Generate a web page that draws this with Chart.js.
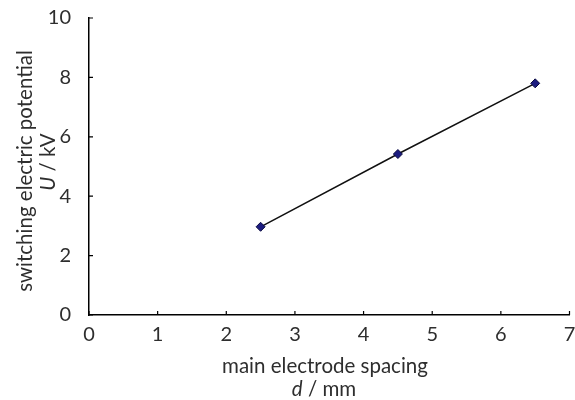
<!DOCTYPE html>
<html>
<head>
<meta charset="utf-8">
<script src="https://cdn.jsdelivr.net/npm/chart.js@4"></script>
<style>
  html, body { margin: 0; padding: 0; background: #fff; }
  #wrap { width: 575px; height: 400px; }
</style>
</head>
<body>
<div id="wrap"><canvas id="chart"></canvas></div>
<script>
const spacing = [2.5, 4.5, 6.5];
const potential = [2.97, 5.42, 7.8];
const xTicks = [0, 1, 2, 3, 4, 5, 6, 7];
const yTicks = [0, 2, 4, 6, 8, 10];

const font = 'Lato, "Open Sans", sans-serif';
const ink = '#2e2e2e';
const titleSize = 20.5;

// small inward tick marks + two-line axis titles with italic symbols
const axisDecor = {
  id: 'axisDecor',
  afterDraw(chart) {
    const { ctx, chartArea, scales } = chart;
    ctx.save();
    ctx.strokeStyle = '#000';
    ctx.lineWidth = 1.2;
    ctx.beginPath();
    xTicks.forEach(v => {
      const px = scales.x.getPixelForValue(v);
      ctx.moveTo(px, chartArea.bottom);
      ctx.lineTo(px, chartArea.bottom - 4);
    });
    yTicks.forEach(v => {
      const py = scales.y.getPixelForValue(v);
      ctx.moveTo(chartArea.left, py);
      ctx.lineTo(chartArea.left + 4, py);
    });
    ctx.stroke();

    ctx.fillStyle = ink;
    ctx.textBaseline = 'middle';

    // x title
    ctx.textAlign = 'center';
    ctx.font = titleSize + 'px ' + font;
    ctx.fillText('main electrode spacing', 325, 366);
    drawMixed(ctx, [['d', true], [' / mm', false]], 324, 389);

    // y title
    ctx.save();
    ctx.translate(25, 171);
    ctx.rotate(-Math.PI / 2);
    ctx.font = titleSize + 'px ' + font;
    ctx.fillText('switching electric potential', 0, 0);
    ctx.restore();
    ctx.translate(48, 162);
    ctx.rotate(-Math.PI / 2);
    drawMixed(ctx, [['U', true], [' / kV', false]], 0, 0);
    ctx.restore();
  }
};

function drawMixed(ctx, parts, cx, cy) {
  let total = 0;
  parts.forEach(p => {
    ctx.font = (p[1] ? 'italic ' : '') + titleSize + 'px ' + font;
    p.w = ctx.measureText(p[0]).width;
    total += p.w;
  });
  let x = cx - total / 2;
  ctx.textAlign = 'left';
  parts.forEach(p => {
    ctx.font = (p[1] ? 'italic ' : '') + titleSize + 'px ' + font;
    ctx.fillText(p[0], x, cy);
    x += p.w;
  });
  ctx.textAlign = 'center';
}

new Chart(document.getElementById('chart'), {
  type: 'scatter',
  data: {
    datasets: [{
      data: spacing.map((x, i) => ({ x: x, y: potential[i] })),
      showLine: true,
      borderColor: '#111',
      borderWidth: 1.5,
      pointStyle: 'rectRot',
      pointRadius: 4.5,
      pointBackgroundColor: '#1c1c80',
      pointBorderColor: '#0a0a40',
      pointBorderWidth: 1
    }]
  },
  options: {
    responsive: true,
    maintainAspectRatio: false,
    animation: false,
    layout: { padding: { left: 0, top: 18, right: 0, bottom: 0 } },
    plugins: { legend: { display: false }, tooltip: { enabled: false } },
    scales: {
      x: {
        type: 'linear',
        min: 0,
        max: 7,
        afterBuildTicks: s => { s.ticks = xTicks.map(v => ({ value: v })); },
        afterFit: s => { s.height = 85; s.paddingLeft = 0; s.paddingRight = 0; },
        grid: { display: false },
        border: { display: true, color: '#000', width: 1.5 },
        ticks: { color: ink, font: { family: font, size: 20 }, padding: 0 }
      },
      y: {
        min: 0,
        max: 10,
        afterBuildTicks: s => { s.ticks = yTicks.map(v => ({ value: v })); },
        afterFit: s => { s.width = 89; s.paddingTop = 0; s.paddingBottom = 0; },
        grid: { display: false },
        border: { display: true, color: '#000', width: 1.5 },
        ticks: { color: ink, font: { family: font, size: 20 }, padding: 10 }
      }
    }
  },
  plugins: [axisDecor]
});
</script>
</body>
</html>
